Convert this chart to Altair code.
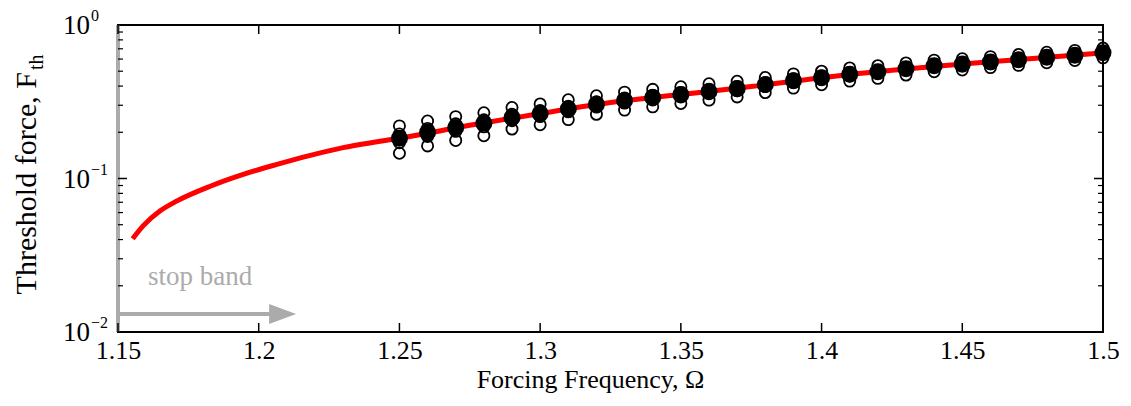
import altair as alt
import pandas as pd

# ---------------- data ----------------
dot_omega = [1.25, 1.26, 1.27, 1.28, 1.29, 1.30, 1.31, 1.32, 1.33, 1.34, 1.35, 1.36, 1.37,
             1.38, 1.39, 1.40, 1.41, 1.42, 1.43, 1.44, 1.45, 1.46, 1.47, 1.48, 1.49, 1.50]
f_mean = [0.183, 0.200, 0.215, 0.229, 0.250, 0.265, 0.284, 0.304, 0.322, 0.337, 0.352, 0.369, 0.385,
          0.409, 0.434, 0.454, 0.478, 0.496, 0.519, 0.543, 0.556, 0.575, 0.594, 0.616, 0.635, 0.659]
f_up_outer = [0.220, 0.237, 0.253, 0.268, 0.290, 0.306, 0.326, 0.346, 0.365, 0.381, 0.396, 0.414, 0.430,
              0.455, 0.480, 0.500, 0.525, 0.543, 0.566, 0.590, 0.603, 0.622, 0.642, 0.664, 0.683, 0.707]
f_lo_outer = [0.146, 0.163, 0.177, 0.190, 0.210, 0.224, 0.242, 0.262, 0.279, 0.293, 0.308, 0.324, 0.340,
              0.363, 0.388, 0.408, 0.431, 0.449, 0.472, 0.496, 0.509, 0.528, 0.546, 0.568, 0.587, 0.611]
f_up_inner = [0.195, 0.212, 0.227, 0.241, 0.262, 0.277, 0.296, 0.316, 0.334, 0.349, 0.364, 0.381, 0.397,
              0.421, 0.446, 0.466, 0.490, 0.508, 0.531, 0.555, 0.568, 0.587, 0.606, 0.628, 0.647, 0.671]
f_lo_inner = [0.171, 0.188, 0.203, 0.217, 0.238, 0.253, 0.272, 0.292, 0.310, 0.325, 0.340, 0.357, 0.373,
              0.397, 0.422, 0.442, 0.466, 0.484, 0.507, 0.531, 0.544, 0.563, 0.582, 0.604, 0.623, 0.647]

curve_omega = [1.1552, 1.159, 1.165, 1.171, 1.183, 1.1945, 1.2065, 1.218, 1.230, 1.242, 1.25,
               1.275, 1.30, 1.325, 1.35, 1.375, 1.40, 1.425, 1.45, 1.475, 1.50]
curve_f = [0.0405, 0.0493, 0.0616, 0.0715, 0.0894, 0.1064, 0.1236, 0.141, 0.159, 0.1735, 0.183,
           0.222, 0.265, 0.313, 0.352, 0.397, 0.454, 0.507, 0.557, 0.605, 0.659]

x_ticks = [1.15, 1.2, 1.25, 1.3, 1.35, 1.4, 1.45, 1.5]
y_major = [0.01, 0.1, 1.0]
y_exps = ["\u22122", "\u22121", "0"]
y_minor = [0.02, 0.03, 0.04, 0.05, 0.06, 0.07, 0.08, 0.09,
           0.2, 0.3, 0.4, 0.5, 0.6, 0.7, 0.8, 0.9]

band_edge = [1.15]
arrow_start, arrow_end, arrow_head, arrow_f = 1.15, 1.205, 1.2085, 0.0131
band_text = "stop band"
band_text_omega, band_text_f = 1.1607, 0.0201

x_title = "Forcing Frequency, \u03a9"
y_title_main = "Threshold force, F"
y_title_sub = "th"

# ---------------- layout ----------------
W, H = 985, 307
FONT = "Liberation Serif"
GRAY = "#ababab"

xs = alt.Scale(domain=[1.15, 1.5], nice=False, zero=False)
ys = alt.Scale(type="log", domain=[0.01, 1], nice=False)

def X(**kw):
    return alt.X("omega:Q", scale=xs, **kw)

def Y(**kw):
    return alt.Y("f:Q", scale=ys, axis=None, **kw)

curve_df = pd.DataFrame({"omega": curve_omega, "f": curve_f})
open_df = pd.DataFrame({
    "omega": dot_omega * 4,
    "f": f_up_outer + f_lo_outer + f_up_inner + f_lo_inner,
})
mean_df = pd.DataFrame({"omega": dot_omega, "f": f_mean})

curve = alt.Chart(curve_df).mark_line(color="#ff0000", strokeWidth=5, interpolate="monotone").encode(
    x=X(axis=alt.Axis(values=x_ticks, labelExpr="format(datum.value, '.2~f')",
                      ticks=False, domain=False, grid=False,
                      labelFont=FONT, labelFontSize=26, labelColor="black",
                      labelPadding=5, labelFlush=False,
                      title=x_title, titleFont=FONT, titleFontSize=26,
                      titleFontWeight="normal", titleColor="black", titlePadding=3,
                      titleX=472, titleAlign="center")),
    y=Y(),
)

opens = alt.Chart(open_df).mark_point(shape="circle", filled=False, color="black",
                                     size=125, strokeWidth=1.8, opacity=1).encode(x=X(), y=Y())
means = alt.Chart(mean_df).mark_circle(color="black", size=290, opacity=1).encode(x=X(), y=Y())

edge = alt.Chart(pd.DataFrame({"omega": band_edge})).mark_rule(color=GRAY, strokeWidth=4).encode(
    x=X(), y=alt.value(0), y2=alt.value(H))

arrow_line = alt.Chart(pd.DataFrame({"omega": [arrow_start], "omega2": [arrow_end], "f": [arrow_f]})
                       ).mark_rule(color=GRAY, strokeWidth=4).encode(x=X(), x2="omega2:Q", y=Y())
arrow_tip = alt.Chart(pd.DataFrame({"omega": [arrow_head], "f": [arrow_f]})).mark_point(
    shape="M-1,-0.74L1,0L-1,0.74Z", filled=True, color=GRAY, size=729, opacity=1
).encode(x=X(), y=Y())

band_lbl = alt.Chart(pd.DataFrame({"omega": [band_text_omega], "f": [band_text_f], "t": [band_text]})
                     ).mark_text(font=FONT, fontSize=27, color=GRAY, align="left",
                                 baseline="alphabetic").encode(x=X(), y=Y(), text="t:N")

xt = pd.DataFrame({"omega": x_ticks})
xtick_bot = alt.Chart(xt).mark_rule(color="black", strokeWidth=1.5).encode(
    x=X(), y=alt.value(H), y2=alt.value(H - 9))
xtick_top = alt.Chart(xt).mark_rule(color="black", strokeWidth=1.5).encode(
    x=X(), y=alt.value(0), y2=alt.value(9))

ymj = pd.DataFrame({"f": y_major, "e": y_exps})
ymn = pd.DataFrame({"f": y_minor})
ytick_l = alt.Chart(ymj).mark_rule(color="black", strokeWidth=1.5).encode(
    y=Y(), x=alt.value(0), x2=alt.value(9))
ytick_r = alt.Chart(ymj).mark_rule(color="black", strokeWidth=1.5).encode(
    y=Y(), x=alt.value(W - 9), x2=alt.value(W))
ymin_l = alt.Chart(ymn).mark_rule(color="black", strokeWidth=1.2).encode(
    y=Y(), x=alt.value(0), x2=alt.value(5))
ymin_r = alt.Chart(ymn).mark_rule(color="black", strokeWidth=1.2).encode(
    y=Y(), x=alt.value(W - 5), x2=alt.value(W))

ylab_base = alt.Chart(ymj).mark_text(font=FONT, fontSize=27, color="black", align="right",
                                     baseline="middle", dy=1).encode(
    y=Y(), x=alt.value(-28), text=alt.value("10"))
ylab_exp = alt.Chart(ymj).mark_text(font=FONT, fontSize=16, color="black", align="left",
                                    baseline="middle", dy=-9).encode(
    y=Y(), x=alt.value(-27), text="e:N")

title_df = pd.DataFrame({"m": [y_title_main], "s": [y_title_sub]})
ytitle_main = alt.Chart(title_df).mark_text(font=FONT, fontSize=30, color="black", angle=270,
                                            align="right", baseline="middle").encode(
    x=alt.value(-91), y=alt.value(47), text="m:N")
ytitle_sub = alt.Chart(title_df).mark_text(font=FONT, fontSize=20, color="black", angle=270,
                                           align="left", baseline="middle").encode(
    x=alt.value(-81), y=alt.value(45), text="s:N")

chart = alt.layer(
    curve, opens, means, edge, arrow_line, arrow_tip, band_lbl,
    xtick_bot, xtick_top, ytick_l, ytick_r, ymin_l, ymin_r,
    ylab_base, ylab_exp, ytitle_main, ytitle_sub,
).properties(
    width=W, height=H,
    autosize=alt.AutoSizeParams(type="none"),
    padding={"left": 110, "top": 17, "right": 20, "bottom": 74},
    background="white",
).configure_view(stroke="black", strokeWidth=2)

chart.save("out.html", embed_options={"renderer": "svg", "actions": False})
